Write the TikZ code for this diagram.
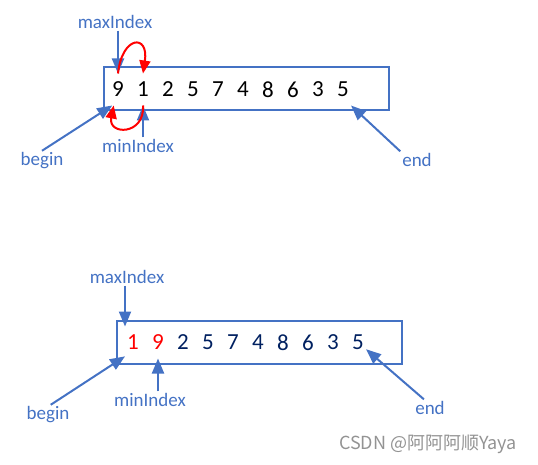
\documentclass[tikz,border=0pt]{standalone}
\usepackage{fontspec}
\setmainfont{Carlito}
\newfontfamily\cjk{Noto Sans CJK SC}
\usetikzlibrary{positioning,arrows.meta}

\definecolor{ptrblue}{HTML}{4472C4}
\definecolor{swapred}{HTML}{FF0000}
\definecolor{numnavy}{HTML}{002060}

\begin{document}
\begin{tikzpicture}[%
    x=1pt, y=-1pt,
    line width=2pt,
    pointer/.style={color=ptrblue, -{Triangle[length=15pt,width=12pt]}},
    swap/.style={color=swapred, -{Triangle[length=13pt,width=11pt]}},
    listbox/.style={%
      rectangle,
      draw=ptrblue,
      minimum width=285pt,
      minimum height=43pt,
      inner sep=0pt
    },
    digit/.style={%
      inner sep=0pt,
      minimum width=14pt,
      minimum height=30pt,
      font=\fontsize{23}{26}\selectfont
    },
    tag/.style={%
      inner sep=1pt,
      text=ptrblue,
      font=\fontsize{19}{22}\selectfont
    },
    wmark/.style={text=gray!85, font=\cjk\fontsize{18}{20}\selectfont}
  ]
    \useasboundingbox (0,0) rectangle (538,465);

    % before the swap
    \node[listbox] (boxA) at (246.5,88.5) {};
    \foreach \d [count=\i] in {9,1,2,5,7,4,8,6,3,5}
      \node[digit] (a\i) at ({93+25*\i},89.5) {\d};
    \node[tag] (maxA) at (115,22) {maxIndex};
    \node[tag] (minA) at (138,146) {minIndex};
    \node[tag] (beginA) at (42,161) {begin};
    \node[tag] (endA) at (417,160) {end};

    % after the swap
    \node[listbox] (boxB) at (259.5,342.5) {};
    \foreach \d/\c [count=\i] in {1/swapred,9/swapred,2/numnavy,5/numnavy,7/numnavy,
                                  4/numnavy,8/numnavy,6/numnavy,3/numnavy,5/numnavy}
      \node[digit, text=\c] (b\i) at ({108+25*\i},342.5) {\d};
    \node[tag] (maxB) at (127,277) {maxIndex};
    \node[tag] (minB) at (150,400) {minIndex};
    \node[tag] (beginB) at (48,415) {begin};
    \node[tag] (endB) at (430,408) {end};

    \node[wmark] (csdn) at (428,444) {CSDN @阿阿阿顺Yaya};

    \path[pointer]
          (a1.north |- maxA.south) edge (a1.north)
          (a2.south |- minA.north) edge (a2.south)
          (beginA.north) edge (a1.-110)
          (endA.north west) edge (a10.south east)
          (b1.north west |- maxB.south) edge (b1.north west)
          (b2.south |- minB.north) edge (b2.south)
          (beginB.75) edge (b1.-120)
          (endB.125) edge (b10.-40);

    \draw[swap] (a1.north) .. controls +(4,-38) and +(6,-40) .. (a2.north);
    \draw[swap] (a2.south) .. controls +(2,30) and +(-6,30) .. (a1.-105);
\end{tikzpicture}
\end{document}
